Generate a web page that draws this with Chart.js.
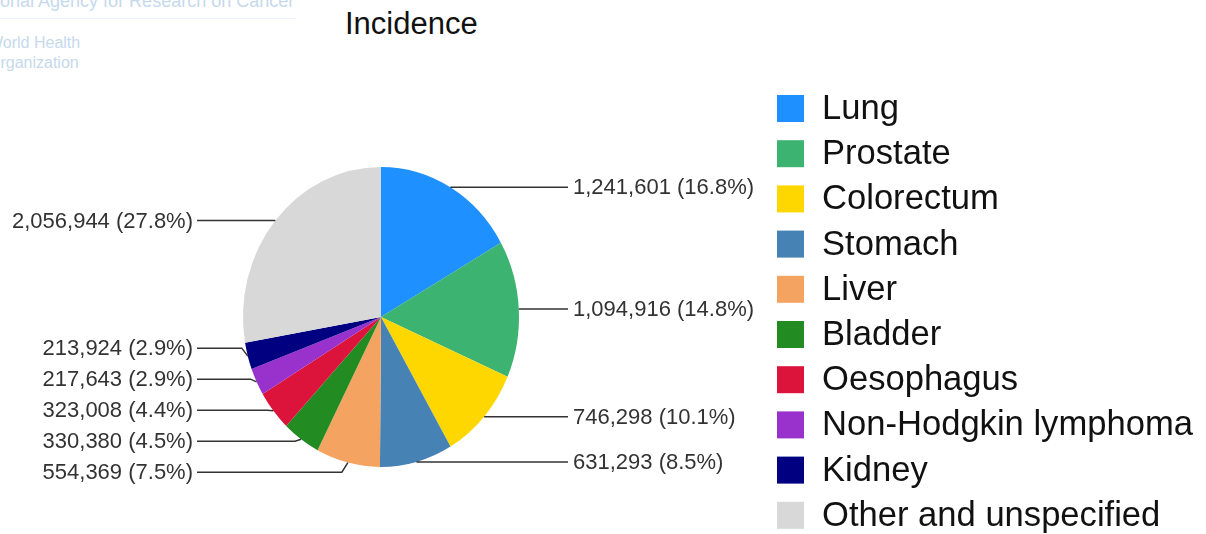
<!DOCTYPE html>
<html>
<head>
<meta charset="utf-8">
<title>Incidence</title>
<script src="https://cdn.jsdelivr.net/npm/chart.js@4.4.1/dist/chart.umd.min.js"></script>
<style>
  body { margin: 0; background: #fff; }
  #wrap { position: relative; width: 1206px; height: 534px; overflow: hidden; font-family: "Liberation Sans", Arial, sans-serif; }
  .logo { position: absolute; color: #c6d9ec; white-space: nowrap; }
  #agency { left: -65px; top: -9px; font-size: 18px; }
  #rule { position: absolute; left: 0; top: 18px; width: 296px; height: 1px; background: #e6eef7; }
  #who { left: -12px; top: 33px; font-size: 16px; line-height: 20px; }
  #title { position: absolute; left: 345px; top: 6px; font-size: 31px; color: #111; }
  canvas { position: absolute; left: 0; top: 0; }
</style>
</head>
<body>
<div id="wrap">
  <div class="logo" id="agency">International Agency for Research on Cancer</div>
  <div id="rule"></div>
  <div class="logo" id="who">World Health<br>Organization</div>
  <div id="title">Incidence</div>
  <canvas id="chart" width="1206" height="534"></canvas>
</div>

<script>
// cancer sites, clockwise from 12 o'clock
const sites = ['Lung', 'Prostate', 'Colorectum', 'Stomach', 'Liver', 'Bladder',
               'Oesophagus', 'Non-Hodgkin lymphoma', 'Kidney', 'Other and unspecified'];
const cases = [1241601, 1094916, 746298, 631293, 554369, 330380, 323008, 217643, 213924, 2056944];
const siteColors = ['dodgerblue', 'mediumseagreen', 'gold', 'steelblue', 'sandybrown',
                    'forestgreen', 'crimson', 'darkorchid', 'navy', '#d8d8d8'];

const total = cases.reduce((a, b) => a + b, 0);
const FONT = '"Liberation Sans", Arial, sans-serif';
const SQUEEZE = 0.92;   // the pie is drawn slightly narrower than tall

function caseLabel(i) {
  const pct = (cases[i] / total * 100).toFixed(1);
  return cases[i].toLocaleString('en-US') + ' (' + pct + '%)';
}

// squash the pie horizontally around its centre
const ovalPie = {
  id: 'ovalPie',
  beforeDatasetsDraw(chart) {
    const arc = chart.getDatasetMeta(0).data[0];
    const ctx = chart.ctx;
    ctx.save();
    ctx.translate(arc.x, arc.y);
    ctx.scale(SQUEEZE, 1);
    ctx.translate(-arc.x, -arc.y);
  },
  afterDatasetsDraw(chart) {
    chart.ctx.restore();
  }
};

// value labels with leader lines, stacked so they don't overlap
const sliceLabels = {
  id: 'sliceLabels',
  afterDraw(chart) {
    const ctx = chart.ctx;
    const arcs = chart.getDatasetMeta(0).data;
    const gap = 31;
    const rightX = 573, leftX = 193;

    const items = arcs.map((arc, i) => {
      const mid = (arc.startAngle + arc.endAngle) / 2;
      const ax = arc.x + Math.cos(mid) * arc.outerRadius * SQUEEZE;
      const ay = arc.y + Math.sin(mid) * arc.outerRadius;
      return { i: i, ax: ax, ay: ay, right: Math.cos(mid) >= 0 };
    });

    [true, false].forEach(side => {
      const list = items.filter(d => d.right === side).sort((a, b) => a.ay - b.ay);
      // merge overlapping labels into groups centred on their anchors
      let groups = list.map(d => ({ members: [d], y: d.ay }));
      let merged = true;
      while (merged) {
        merged = false;
        for (let k = 0; k < groups.length - 1; k++) {
          const g1 = groups[k], g2 = groups[k + 1];
          const end1 = g1.y + (g1.members.length - 1) * gap;
          if (g2.y - end1 < gap) {
            const members = g1.members.concat(g2.members);
            const mean = members.reduce((s, d) => s + d.ay, 0) / members.length;
            groups.splice(k, 2, { members: members, y: mean - (members.length - 1) * gap / 2 });
            merged = true;
            break;
          }
        }
      }
      groups.forEach(g => g.members.forEach((d, n) => { d.ly = g.y + n * gap; }));
    });

    ctx.save();
    ctx.strokeStyle = '#333';
    ctx.lineWidth = 1.5;
    ctx.fillStyle = '#333';
    ctx.font = '22px ' + FONT;
    ctx.textBaseline = 'middle';
    items.forEach(d => {
      const dir = d.right ? 1 : -1;
      ctx.beginPath();
      ctx.moveTo(d.ax, d.ay);
      ctx.lineTo(d.ax + dir * 6, d.ly);
      ctx.lineTo(d.right ? rightX - 5 : leftX + 4, d.ly);
      ctx.stroke();
      ctx.textAlign = d.right ? 'left' : 'right';
      ctx.fillText(caseLabel(d.i), d.right ? rightX : leftX, d.ly + 1);
    });
    ctx.restore();
  }
};

// legend column to the right of the pie
const sideLegend = {
  id: 'sideLegend',
  afterDraw(chart) {
    const ctx = chart.ctx;
    const boxX = 777, box = 27, textX = 822, top = 108.5, step = 45.2;
    ctx.save();
    ctx.font = '34.6px ' + FONT;
    ctx.textBaseline = 'middle';
    ctx.textAlign = 'left';
    chart.data.labels.forEach((name, i) => {
      const y = top + i * step;
      ctx.fillStyle = siteColors[i];
      ctx.fillRect(boxX, y - box / 2, box, box);
      ctx.fillStyle = '#111';
      ctx.fillText(name, textX, y + 1);
    });
    ctx.restore();
  }
};

new Chart(document.getElementById('chart'), {
  type: 'pie',
  data: {
    labels: sites,
    datasets: [{
      data: cases,
      backgroundColor: siteColors,
      borderWidth: 0,
      hoverOffset: 0
    }]
  },
  options: {
    responsive: false,
    animation: false,
    events: [],
    layout: { padding: { left: 231, right: 675, top: 167, bottom: 67 } },
    plugins: {
      legend: { display: false },
      tooltip: { enabled: false }
    }
  },
  plugins: [ovalPie, sliceLabels, sideLegend]
});
</script>
</body>
</html>
